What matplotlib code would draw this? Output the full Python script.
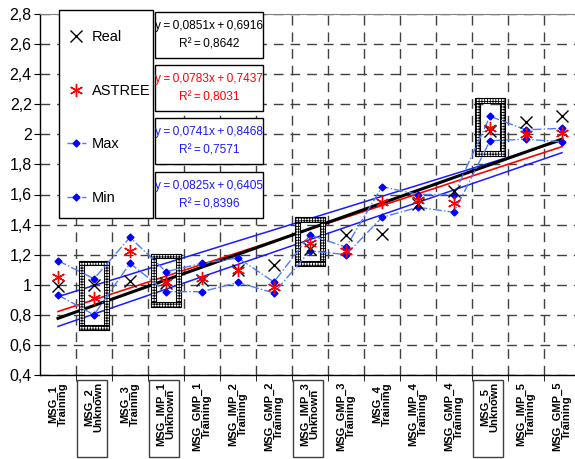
import numpy as np
import matplotlib.pyplot as plt
import matplotlib.transforms as mtransforms
from matplotlib import font_manager
from matplotlib.patches import Rectangle
from matplotlib.ticker import FuncFormatter

# message sets along the x axis
categories = ['MSG_1\nTraining', 'MSG_2\nUnknown', 'MSG_3\nTraining',
              'MSG_IMP_1\nUnknown', 'MSG_GMP_1\nTraining', 'MSG_IMP_2\nTraining',
              'MSG_GMP_2\nTraining', 'MSG_IMP_3\nUnknown', 'MSG_GMP_3\nTraining',
              'MSG_4\nTraining', 'MSG_IMP_4\nTraining', 'MSG_GMP_4\nTraining',
              'MSG_5\nUnknown', 'MSG_IMP_5\nTraining', 'MSG_GMP_5\nTraining']

real = [0.99, 1.00, 1.025, 1.01, 1.03, 1.10, 1.13, 1.24, 1.33,
        1.34, 1.54, 1.62, 2.02, 2.08, 2.12]
astree = [1.05, 0.91, 1.226, 1.02, 1.043, 1.098, 0.985, 1.275, 1.226,
          1.552, 1.563, 1.541, 2.04, 2.00, 2.007]
max_vals = [1.16, 1.04, 1.315, 1.087, 1.142, 1.178, 1.018, 1.331, 1.25,
            1.652, 1.60, 1.60, 2.12, 2.03, 2.04]
min_vals = [0.932, 0.80, 1.142, 0.954, 0.954, 1.015, 0.945, 1.226, 1.20,
            1.448, 1.515, 1.482, 1.958, 1.967, 1.951]

# linear trend lines: y = slope * x + intercept
slopes = [0.0851, 0.0783, 0.0741, 0.0825]
intercepts = [0.6916, 0.7437, 0.8468, 0.6405]
r_squared = [0.8642, 0.8031, 0.7571, 0.8396]
trend_colors = ['black', '#FF0000', '#1A1AFF', '#1A1AFF']
trend_widths = [2.2, 1.2, 1.1, 1.1]

# pick a condensed face if there is one
names = {f.name for f in font_manager.fontManager.ttflist}
main_font = 'Liberation Sans Narrow' if 'Liberation Sans Narrow' in names else 'Liberation Sans'
plt.rcParams['font.family'] = [main_font, 'DejaVu Sans']
plt.rcParams['hatch.linewidth'] = 0.6


def comma(v, digits=4):
    return f'{v:.{digits}f}'.replace('.', ',')


W, H = 575, 459
fig = plt.figure(figsize=(W / 100, H / 100), dpi=100)
ax = fig.add_axes([40 / W, 84 / H, 540 / W, 361 / H])

x = np.arange(1, len(categories) + 1)

# grid
ax.set_xlim(0.5, 15.5)
ax.set_ylim(0.4, 2.8)
ax.set_yticks(np.arange(0.4, 2.81, 0.2))
ax.yaxis.set_major_formatter(FuncFormatter(lambda v, p: f'{v:g}'.replace('.', ',')))
ax.set_xticks(x)
ax.set_xticklabels(categories, rotation=90, fontsize=8, fontweight='bold',
                   family='Liberation Sans', ha='center', va='top',
                   multialignment='center', linespacing=0.95)
ax.set_xticks(np.arange(1.5, 15, 1), minor=True)
ax.tick_params(axis='x', which='major', length=0, pad=5)
ax.tick_params(axis='x', which='minor', length=4, color='black')
ax.tick_params(axis='y', length=4, labelsize=11.5, pad=2)
ax.grid(True, axis='y', which='major', color='#404040', lw=1, dashes=(7, 5))
ax.grid(True, axis='x', which='minor', color='#404040', lw=1, dashes=(7, 5))
ax.set_axisbelow(True)
for side in ['left', 'bottom']:
    ax.spines[side].set_color('black')
    ax.spines[side].set_linewidth(1)
ax.spines['top'].set_color('#808080')
ax.spines['right'].set_visible(False)

# trend lines
xt = np.array([1, 15])
for k in range(4):
    ax.plot(xt, slopes[k] * xt + intercepts[k], color=trend_colors[k],
            lw=trend_widths[k], zorder=2 + (k == 0) * 0.5)

# frames around the unknown sets
tx, ty = 0.13, 0.032
trans = mtransforms.blended_transform_factory(ax.transData, ax.transAxes)
for i, lab in enumerate(categories):
    if 'Unknown' not in lab:
        continue
    xc = x[i]
    lo = min(real[i], astree[i], max_vals[i], min_vals[i]) - 0.10
    hi = max(real[i], astree[i], max_vals[i], min_vals[i]) + 0.12
    x0, x1 = xc - 0.42, xc + 0.42
    for rx, ry, rw, rh in [(x0, lo, tx, hi - lo), (x1 - tx, lo, tx, hi - lo),
                           (x0, lo, x1 - x0, ty), (x0, hi - ty, x1 - x0, ty)]:
        ax.add_patch(Rectangle((rx, ry), rw, rh, facecolor='white',
                               edgecolor='black', hatch='++++++', lw=0.8, zorder=3))
    # box round the tick label
    ax.add_patch(Rectangle((xc - 0.46, -0.227), 0.82, 0.213, transform=trans,
                           facecolor='none', edgecolor='#404040', lw=1,
                           clip_on=False))

# series
h_real, = ax.plot(x, real, ls='none', marker='x', ms=8, mew=1,
                  color='black', label='Real', zorder=6)
h_ast, = ax.plot(x, astree, ls='none', marker=(6, 2, 0), ms=9.5, mew=1,
                 color='#FF0000', label='ASTREE', zorder=6)
h_max, = ax.plot(x, max_vals, color='#4D7CFF', lw=1, ls='-.', marker='D', ms=3.5,
                 mfc='#0000FF', mec='#0000FF', label='Max', zorder=5)
h_min, = ax.plot(x, min_vals, color='#4D7CFF', lw=1, ls='-.', marker='D', ms=3.5,
                 mfc='#0000FF', mec='#0000FF', label='Min', zorder=5)

# legend: tall framed panel on the left, entries spread out inside it
ax.add_patch(Rectangle((59 / W, 1 - 218 / H), 94 / W, 208 / H,
                       transform=fig.transFigure, facecolor='white',
                       edgecolor='black', lw=1, clip_on=False, zorder=9))
leg = ax.legend(handles=[h_real, h_ast, h_max, h_min], loc='upper left',
                bbox_to_anchor=(67 / W, 1 - 30.3 / H),
                bbox_transform=fig.transFigure, borderaxespad=0, borderpad=0,
                fontsize=10.5, frameon=False, labelspacing=2.71,
                handlelength=1.3, handletextpad=0.4)
leg.set_zorder(10)

# equation boxes
eq_colors = ['black', '#FF0000', '#1A1AFF', '#1A1AFF']
box_tops = [12, 65, 118, 172]
sp = '\u2009'
for k in range(4):
    top = box_tops[k]
    fig.add_artist(Rectangle((155 / W, 1 - (top + 46) / H), 108 / W, 46 / H,
                             transform=fig.transFigure, facecolor='white',
                             edgecolor='black', lw=1, zorder=10))
    txt = (f'y{sp}={sp}{comma(slopes[k])}x{sp}+{sp}{comma(intercepts[k])}\n'
           f'R²{sp}={sp}{comma(r_squared[k])}')
    fig.text(209 / W, 1 - (top + 23) / H, txt, color=eq_colors[k], fontsize=8.6,
             ha='center', va='center', multialignment='center',
             linespacing=1.67, zorder=11)

fig.savefig('out.png', dpi=100)
